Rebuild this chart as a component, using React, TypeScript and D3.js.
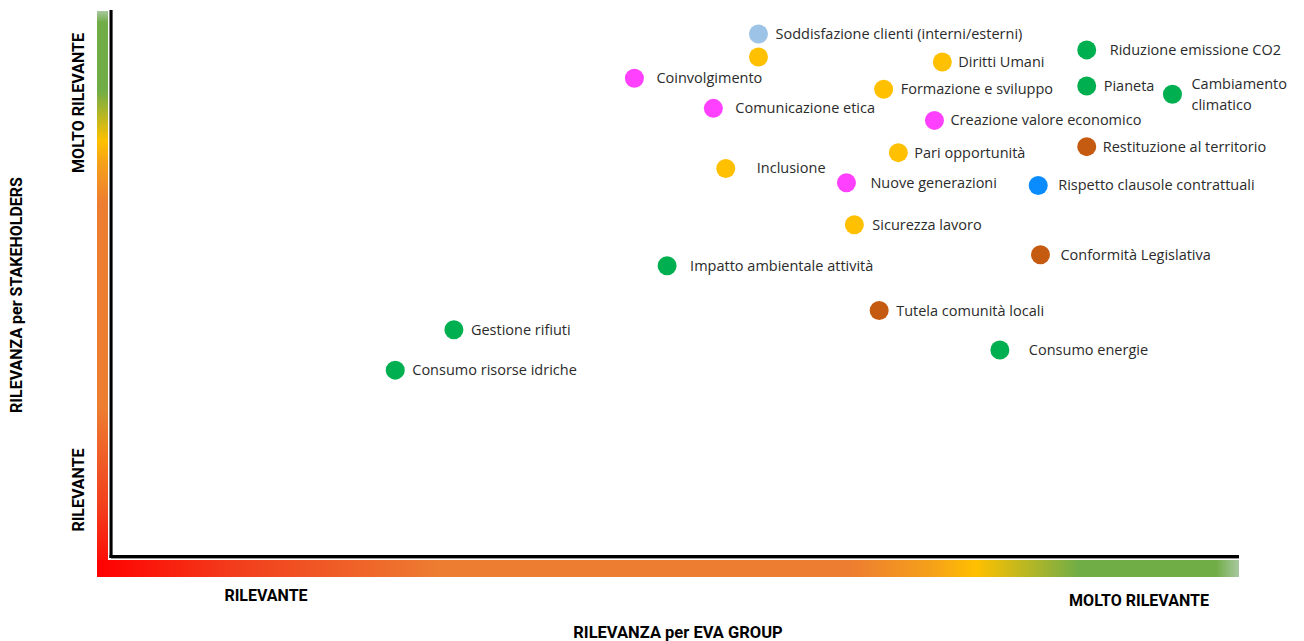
import React from "react"
import * as d3 from "d3"

// materiality topics
const topics = [
	"Soddisfazione clienti (interni/esterni)",
	"",
	"Diritti Umani",
	"Formazione e sviluppo",
	"Pari opportunità",
	"Inclusione",
	"Sicurezza lavoro",
	"Coinvolgimento",
	"Comunicazione etica",
	"Creazione valore economico",
	"Nuove generazioni",
	"Riduzione emissione CO2",
	"Pianeta",
	"Cambiamento climatico",
	"Impatto ambientale attività",
	"Gestione rifiuti",
	"Consumo risorse idriche",
	"Consumo energie",
	"Restituzione al territorio",
	"Conformità Legislativa",
	"Tutela comunità locali",
	"Rispetto clausole contrattuali",
]
const groups = [
	"clienti", "persone", "persone", "persone", "persone", "persone", "persone",
	"comunita", "comunita", "comunita", "comunita",
	"ambiente", "ambiente", "ambiente", "ambiente", "ambiente", "ambiente", "ambiente",
	"territorio", "territorio", "territorio",
	"contratti",
]
// rilevanza per EVA GROUP (0-100)
const relevanceEva = [
	57.4, 57.4, 73.7, 68.5, 69.8, 54.5, 65.9,
	46.4, 53.4, 73.0, 65.2,
	86.5, 86.5, 94.1, 49.3, 30.4, 25.2, 78.8,
	86.5, 82.4, 68.1,
	82.2,
]
// rilevanza per stakeholders (0-100)
const relevanceStake = [
	95.6, 91.4, 90.5, 85.5, 73.9, 71.0, 60.7,
	87.5, 82.0, 79.8, 68.4,
	92.7, 86.1, 84.6, 53.2, 41.5, 34.1, 37.8,
	75.0, 55.2, 45.0,
	67.9,
]
const groupNames = ["clienti", "persone", "comunita", "ambiente", "territorio", "contratti"]
const groupColors = ["#9DC3E6", "#FFC000", "#FF40FF", "#00B050", "#C55A11", "#0A8CFF"]

// horizontal distance of each label from its dot
const labelGap = [
	17, 0, 16, 17, 16, 31, 18,
	22, 22, 16, 24,
	23, 17, 19, 23, 17, 17, 29,
	16, 20, 17,
	20,
]

const gradientStops: [number, string][] = [
	[0, "#FF0000"],
	[0.12, "#F23D1C"],
	[0.3, "#ED7D31"],
	[0.66, "#ED7D31"],
	[0.73, "#F5A01A"],
	[0.77, "#FFC000"],
	[0.86, "#70AD47"],
	[0.98, "#70AD47"],
	[1, "#A9C8A0"],
]

const W = 1304
const H = 641
const axisLeft = 111
const axisBottom = 556.5
const axisRight = 1239
const axisTop = 10

const App = () => {
	const x = d3.scaleLinear().domain([0, 100]).range([axisLeft, axisRight])
	const y = d3.scaleLinear().domain([0, 100]).range([axisBottom, axisTop])
	const color = d3.scaleOrdinal<string, string>().domain(groupNames).range(groupColors)

	const points = topics.map((t, i) => ({
		label: t,
		group: groups[i],
		ex: relevanceEva[i],
		st: relevanceStake[i],
		gap: labelGap[i],
	}))

	const labelFont = "'Open Sans', 'Noto Sans', sans-serif"
	const axisFont = "'Liberation Sans Narrow', 'Roboto', sans-serif"

	return (
		<svg
			width={W}
			height={H}
			style={{ position: "absolute", left: 0, top: 0, background: "#fff" }}
		>
			<defs>
				<linearGradient id="grad-h" x1="0" y1="0" x2="1" y2="0">
					{gradientStops.map(([o, c]) => (
						<stop key={o} offset={o} stopColor={c} />
					))}
				</linearGradient>
				<linearGradient id="grad-v" x1="0" y1="1" x2="0" y2="0">
					{gradientStops.map(([o, c]) => (
						<stop key={o} offset={o} stopColor={c} />
					))}
				</linearGradient>
			</defs>

			{/* gradient bars */}
			<rect x={97} y={11} width={11} height={566} fill="url(#grad-v)" />
			<rect x={97} y={560} width={axisRight - 97} height={17} fill="url(#grad-h)" />

			{/* axis lines */}
			<line x1={axisLeft + 1} y1={axisTop} x2={axisLeft + 1} y2={axisBottom + 2} stroke="#999" strokeWidth={1} />
			<line x1={axisLeft} y1={axisBottom + 2} x2={axisRight} y2={axisBottom + 2} stroke="#999" strokeWidth={1} />
			<line x1={axisLeft} y1={axisTop} x2={axisLeft} y2={axisBottom + 1.5} stroke="#000" strokeWidth={3} />
			<line x1={axisLeft - 1.5} y1={axisBottom} x2={axisRight} y2={axisBottom} stroke="#000" strokeWidth={3} />

			{/* axis texts */}
			<g fontFamily={axisFont} fontWeight="bold" fill="#000" fontSize={16}>
				<text x={266} y={601} textAnchor="middle">RILEVANTE</text>
				<text x={1139} y={606} textAnchor="middle">MOLTO RILEVANTE</text>
				<text x={678} y={638} textAnchor="middle" fontSize={16.5}>RILEVANZA per EVA GROUP</text>
				<text transform="translate(84,103) rotate(-90)" textAnchor="middle">MOLTO RILEVANTE</text>
				<text transform="translate(84,490) rotate(-90)" textAnchor="middle">RILEVANTE</text>
				<text transform="translate(22,295) rotate(-90)" textAnchor="middle">RILEVANZA per STAKEHOLDERS</text>
			</g>

			{/* dots */}
			{points.map((p, i) => (
				<circle key={"c" + i} cx={x(p.ex)} cy={y(p.st)} r={9.5} fill={color(p.group)} />
			))}

			{/* labels */}
			<g fontFamily={labelFont} fontSize={14.5} fill="#2b2b2b">
				{points.map((p, i) => {
					if (!p.label) return null
					const words = p.label === "Cambiamento climatico" ? ["Cambiamento", "climatico"] : [p.label]
					const lineH = 21
					const y0 = y(p.st) - ((words.length - 1) * lineH) / 2 + 1
					return (
						<text key={"t" + i} x={x(p.ex) + p.gap} y={y0} dominantBaseline="middle">
							{words.map((w, j) => (
								<tspan key={j} x={x(p.ex) + p.gap} dy={j === 0 ? 0 : lineH}>
									{w}
								</tspan>
							))}
						</text>
					)
				})}
			</g>
		</svg>
	)
}

export default App
